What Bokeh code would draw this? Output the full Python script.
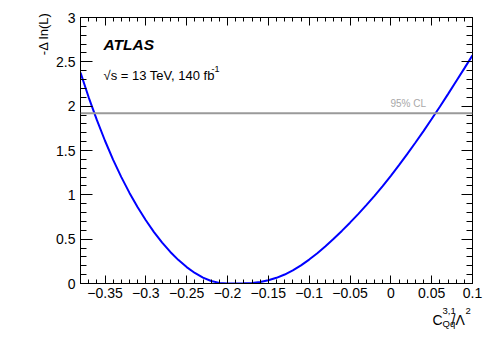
from bokeh.plotting import figure
from bokeh.models import (Label, Span, LinearAxis, FixedTicker, Range1d, Title,
                          CustomJSTickFormatter)
from bokeh.layouts import column
from bokeh.embed import file_html
from bokeh.resources import INLINE

# ---- data ----
coef = [-0.38, -0.37, -0.36, -0.35, -0.34, -0.33, -0.32, -0.31, -0.30, -0.29,
        -0.28, -0.27, -0.26, -0.25, -0.24, -0.23, -0.22, -0.21, -0.20, -0.19,
        -0.18, -0.17, -0.16, -0.15, -0.14, -0.13, -0.12, -0.11, -0.10, -0.09,
        -0.08, -0.07, -0.06, -0.05, -0.04, -0.03, -0.02, -0.01, 0.00, 0.01,
        0.02, 0.03, 0.04, 0.05, 0.06, 0.07, 0.08, 0.09, 0.10]
nll = [2.380, 2.100, 1.845, 1.610, 1.395, 1.200, 1.022, 0.860, 0.713, 0.580,
       0.461, 0.356, 0.264, 0.185, 0.119, 0.066, 0.028, 0.007, 0.000, 0.000,
       0.002, 0.007, 0.018, 0.037, 0.064, 0.101, 0.148, 0.205, 0.270, 0.342,
       0.420, 0.504, 0.593, 0.686, 0.783, 0.884, 0.989, 1.099, 1.215, 1.335,
       1.459, 1.587, 1.719, 1.855, 1.994, 2.136, 2.281, 2.426, 2.573]
cl95 = 1.92
x_ticks = [-0.35, -0.3, -0.25, -0.2, -0.15, -0.1, -0.05, 0.0, 0.05, 0.1]
x_tick_labels = ["\u22120.35", "\u22120.3", "\u22120.25", "\u22120.2", "\u22120.15",
                 "\u22120.1", "\u22120.05", "0", "0.05", "0.1"]
y_ticks = [0.0, 0.5, 1.0, 1.5, 2.0, 2.5, 3.0]
y_tick_labels = ["0", "0.5", "1", "1.5", "2", "2.5", "3"]

XMIN, XMAX, YMIN, YMAX = -0.38, 0.1, 0.0, 3.0
FONT = "Liberation Sans"

# frame placement (page pixels)
FL, FR, FT, FB = 80, 472, 17, 283
W, H_MAIN = 498, 313
STRIP_TOP, PAGE_H = 300, 338

def px2x(px):
    return XMIN + (px - FL) * (XMAX - XMIN) / (FR - FL)

def py2y(py):
    return YMIN + (FB - py) * (YMAX - YMIN) / (FB - FT)

p = figure(width=W, height=H_MAIN, x_range=Range1d(XMIN, XMAX), y_range=Range1d(YMIN, YMAX),
           output_backend="svg", toolbar_location=None,
           min_border_left=FL, min_border_right=W - FR,
           min_border_top=FT, min_border_bottom=H_MAIN - FB)
p.grid.visible = False
p.outline_line_color = "black"
p.background_fill_color = "white"
p.border_fill_color = "white"

def minor(ticks, n):
    d = ticks[1] - ticks[0]
    step = d / n
    out = []
    t = ticks[0] - d
    while t <= ticks[-1] + d + 1e-9:
        out.append(round(t, 6))
        t += step
    return out

xt = FixedTicker(ticks=x_ticks, minor_ticks=minor(x_ticks, 5))
yt = FixedTicker(ticks=y_ticks, minor_ticks=minor(y_ticks, 5))

def formatter(ticks, labels):
    return CustomJSTickFormatter(args=dict(tv=ticks, tl=labels), code="""
        for (let i = 0; i < tv.length; i++) {
            if (Math.abs(tv[i] - tick) < 1e-9) { return tl[i]; }
        }
        return '';
    """)

def style(ax, ticker, major, minr):
    ax.ticker = ticker
    ax.axis_line_color = "black"
    ax.axis_line_width = 1
    ax.major_tick_line_color = "black"
    ax.minor_tick_line_color = "black"
    ax.major_tick_in = major
    ax.major_tick_out = 0
    ax.minor_tick_in = minr
    ax.minor_tick_out = 0
    ax.major_label_text_font = FONT
    ax.major_label_text_color = "black"

xa = p.xaxis[0]
ya = p.yaxis[0]
style(xa, xt, 8, 4)
xa.formatter = formatter(x_ticks, x_tick_labels)
xa.major_label_text_font_size = "14px"
xa.major_label_standoff = 4
style(ya, yt, 12, 6)
ya.formatter = formatter(y_ticks, y_tick_labels)
ya.major_label_text_font_size = "14px"
ya.major_label_standoff = 5

empty = CustomJSTickFormatter(code="return '';")
top = LinearAxis(formatter=empty, major_label_text_font_size="0px", major_label_standoff=0)
style(top, xt, 8, 4)
p.add_layout(top, "above")
right = LinearAxis(formatter=empty, major_label_text_font_size="0px", major_label_standoff=0)
style(right, yt, 11, 6)
p.add_layout(right, "right")

# y-axis title
p.add_layout(Title(text="-\u0394 ln(L)", align="right", offset=-5, text_font=FONT,
                   text_font_size="13px", text_font_style="normal",
                   text_color="black", standoff=5), "left")

# 95% CL line and curve
p.add_layout(Span(location=cl95, dimension="width", line_color="#9a9a9a", line_width=2))
p.line(coef, nll, line_color="#0000ff", line_width=2)

p.add_layout(Label(x=px2x(390), y=cl95, y_offset=4, text="95% CL", text_font=FONT,
                   text_font_size="10px", text_color="#a8a8a8", text_baseline="bottom"))

# ATLAS label
p.add_layout(Label(x=px2x(103), y=py2y(44), text="ATLAS", text_font=FONT,
                   text_font_size="15.5px", text_font_style="bold italic",
                   text_color="black", text_baseline="alphabetic"))
p.add_layout(Label(x=px2x(103), y=py2y(75), text="\u221As = 13 TeV, 140 fb", text_font=FONT,
                   text_font_size="13px", text_color="black", text_baseline="alphabetic"))
p.add_layout(Label(x=px2x(211), y=py2y(68), text="-1", text_font=FONT,
                   text_font_size="9px", text_color="black", text_baseline="alphabetic"))

# bottom strip (pulled up over the empty lower border) with the x-axis title
# C^{3,1}_{Qq}/Lambda^2 ; coordinates inside are page pixels
s = figure(width=W, height=PAGE_H - STRIP_TOP, x_range=Range1d(FL, FR),
           y_range=Range1d(PAGE_H, STRIP_TOP),
           output_backend="svg", toolbar_location=None,
           x_axis_type=None, y_axis_type=None,
           min_border_left=FL, min_border_right=W - FR, min_border_top=0, min_border_bottom=0,
           margin=(STRIP_TOP - H_MAIN, 0, 0, 0))
s.outline_line_color = None
s.background_fill_alpha = 0
s.border_fill_alpha = 0

def t(x, y, text, size):
    s.add_layout(Label(x=x, y=y, text=text, text_font=FONT, text_font_size=size,
                       text_color="black", text_baseline="alphabetic"))

t(432, 319, "C", "14px")
t(442, 310, "3,1", "9.5px")
t(442, 323, "Qq", "9.5px")
t(451, 319, "/\u039B", "14px")
t(465, 310, "2", "9.5px")

layout = column(p, s, spacing=0)
open("out.html", "w").write(file_html(layout, INLINE))
